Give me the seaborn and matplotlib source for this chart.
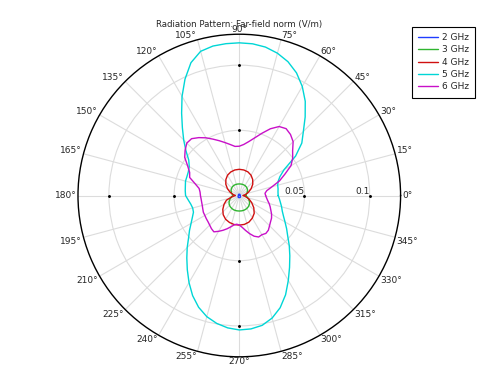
import numpy as np
import pandas as pd
import matplotlib
matplotlib.use("Agg")
import matplotlib.pyplot as plt
import seaborn as sns

angles_coarse = list(range(0, 360, 10))   # small patterns (2-4 GHz)
angles_fine = list(range(0, 360, 5))      # large patterns (5-6 GHz)

# far-field norm (V/m) per frequency
f2ghz = [0.0004, 0.0005, 0.0006, 0.0007, 0.0008, 0.0009, 0.0010, 0.0010, 0.0010, 0.0010,
         0.0010, 0.0010, 0.0010, 0.0009, 0.0008, 0.0007, 0.0006, 0.0005, 0.0004, 0.0006,
         0.0008, 0.0010, 0.0012, 0.0014, 0.0015, 0.0016, 0.0016, 0.0016, 0.0016, 0.0016,
         0.0015, 0.0014, 0.0012, 0.0010, 0.0008, 0.0006]
f3ghz = [0.0050, 0.0055, 0.0064, 0.0073, 0.0080, 0.0085, 0.0088, 0.0089, 0.0089, 0.0089,
         0.0089, 0.0089, 0.0088, 0.0085, 0.0080, 0.0073, 0.0064, 0.0055, 0.0050, 0.0060,
         0.0075, 0.0090, 0.0102, 0.0110, 0.0115, 0.0118, 0.0119, 0.0119, 0.0119, 0.0118,
         0.0115, 0.0110, 0.0102, 0.0090, 0.0075, 0.0060]
f4ghz = [0.0030, 0.0050, 0.0075, 0.0105, 0.0135, 0.0160, 0.0180, 0.0193, 0.0199, 0.0201,
         0.0199, 0.0192, 0.0180, 0.0160, 0.0135, 0.0105, 0.0075, 0.0050, 0.0030, 0.0058,
         0.0105, 0.0135, 0.0165, 0.0192, 0.0210, 0.0220, 0.0226, 0.0227, 0.0225, 0.0217,
         0.0200, 0.0178, 0.0145, 0.0110, 0.0080, 0.0050]
f5ghz = [0.0298, 0.0298, 0.0302, 0.0305, 0.0317, 0.0344, 0.0397, 0.0527, 0.0626, 0.0695,
         0.0786, 0.0882, 0.0966, 0.1038, 0.1092, 0.1130, 0.1156, 0.1168, 0.1171, 0.1169,
         0.1164, 0.1145, 0.1084, 0.0985, 0.0878, 0.0771, 0.0679, 0.0603, 0.0534, 0.0473,
         0.0443, 0.0431, 0.0427, 0.0427, 0.0420, 0.0416, 0.0412, 0.0393, 0.0378, 0.0370,
         0.0374, 0.0397, 0.0427, 0.0466, 0.0508, 0.0565, 0.0626, 0.0695, 0.0771, 0.0847,
         0.0912, 0.0962, 0.0996, 0.1019, 0.1031, 0.1027, 0.1011, 0.0973, 0.0916, 0.0840,
         0.0752, 0.0672, 0.0603, 0.0542, 0.0485, 0.0443, 0.0405, 0.0374, 0.0351, 0.0336,
         0.0321, 0.0309]
f6ghz = [0.0202, 0.0198, 0.0214, 0.0260, 0.0328, 0.0385, 0.0458, 0.0500, 0.0534, 0.0584,
         0.0611, 0.0626, 0.0611, 0.0565, 0.0508, 0.0458, 0.0420, 0.0393, 0.0378, 0.0378,
         0.0397, 0.0420, 0.0447, 0.0477, 0.0511, 0.0542, 0.0569, 0.0569, 0.0542, 0.0511,
         0.0458, 0.0420, 0.0405, 0.0351, 0.0313, 0.0302, 0.0298, 0.0294, 0.0293, 0.0294,
         0.0298, 0.0304, 0.0305, 0.0309, 0.0313, 0.0321, 0.0332, 0.0340, 0.0317, 0.0294,
         0.0271, 0.0248, 0.0229, 0.0221, 0.0226, 0.0244, 0.0271, 0.0302, 0.0332, 0.0351,
         0.0347, 0.0355, 0.0347, 0.0328, 0.0313, 0.0302, 0.0286, 0.0267, 0.0252, 0.0237,
         0.0221, 0.0210]

series = [f2ghz, f3ghz, f4ghz, f5ghz, f6ghz]
series_angles = [angles_coarse, angles_coarse, angles_coarse, angles_fine, angles_fine]
freq_labels = ["2 GHz", "3 GHz", "4 GHz", "5 GHz", "6 GHz"]
colors = ["#1f3dff", "#2fb52f", "#d01010", "#00d6d6", "#c810c8"]

r_ticks = [0.05, 0.1]
r_tick_labels = ["0.05", "0.1"]
theta_ticks = list(range(0, 360, 15))
r_max = 0.1237

# long-form table, each curve closed back onto its first point
rows = []
for lab, angs, vals in zip(freq_labels, series_angles, series):
    for a, v in zip(angs + [360], vals + [vals[0]]):
        rows.append({"theta": np.deg2rad(a), "r": v, "freq": lab})
df = pd.DataFrame(rows)

sns.set_style("white")
plt.rcParams["font.family"] = ["DejaVu Sans"]

fig = plt.figure(figsize=(4.79, 3.66), dpi=100)
ax = fig.add_axes([0.1628, 0.0251, 0.6735, 0.8814], projection="polar")

sns.lineplot(data=df, x="theta", y="r", hue="freq", palette=colors, sort=False,
             estimator=None, linewidth=1.0, ax=ax)

ax.set_ylim(0, r_max)
ax.set_xticks(np.deg2rad(theta_ticks))
ax.set_xticklabels([])
ax.set_yticks(r_ticks)
ax.set_yticklabels([])
ax.set_xlabel("")
ax.set_ylabel("")
ax.tick_params(axis="both", length=0)
ax.grid(True, color="#dcdcdc", linewidth=0.8)
ax.spines["polar"].set_color("black")
ax.spines["polar"].set_linewidth(1.0)

# angle labels hugging the outer circle, anchored by their near corner
for t in theta_ticks:
    c, s = np.cos(np.deg2rad(t)), np.sin(np.deg2rad(t))
    ha = "left" if c > 0.01 else ("right" if c < -0.01 else "center")
    if s > 0.01:
        va, dy = "baseline", 1.6 * s
    elif s < -0.01:
        va, dy = "top", 0.2 * s
    else:
        va, dy = "center", 0.0
    ax.annotate(f"{t}°", xy=(np.deg2rad(t), r_max), xytext=(1.2 * c, dy),
                textcoords="offset points", ha=ha, va=va, fontsize=6.5,
                annotation_clip=False)

# radial labels along 0 deg, right-aligned on their circles
for v, lab in zip(r_ticks, r_tick_labels):
    ax.text(0, v, lab, ha="right", va="bottom", fontsize=6.5)

# small tick dots on the cardinal axes
for a in [0, 90, 180, 270]:
    ax.scatter([np.deg2rad(a)] * len(r_ticks), r_ticks, s=1.2, color="black", zorder=3)

handles, labels = ax.get_legend_handles_labels()
ax.legend(handles, labels, loc="upper right", bbox_to_anchor=(0.992, 0.927),
          bbox_transform=fig.transFigure, borderaxespad=0, fancybox=False,
          edgecolor="black", framealpha=1, fontsize=6.5, handlelength=2.2,
          borderpad=0.7, labelspacing=0.37, handletextpad=0.4)
ax.get_legend().get_frame().set_linewidth(0.8)

fig.text(0.499, 0.934, "Radiation Pattern: Far-field norm (V/m)", ha="center",
         va="center", fontsize=6.2)

fig.savefig("out.png", dpi=100)
